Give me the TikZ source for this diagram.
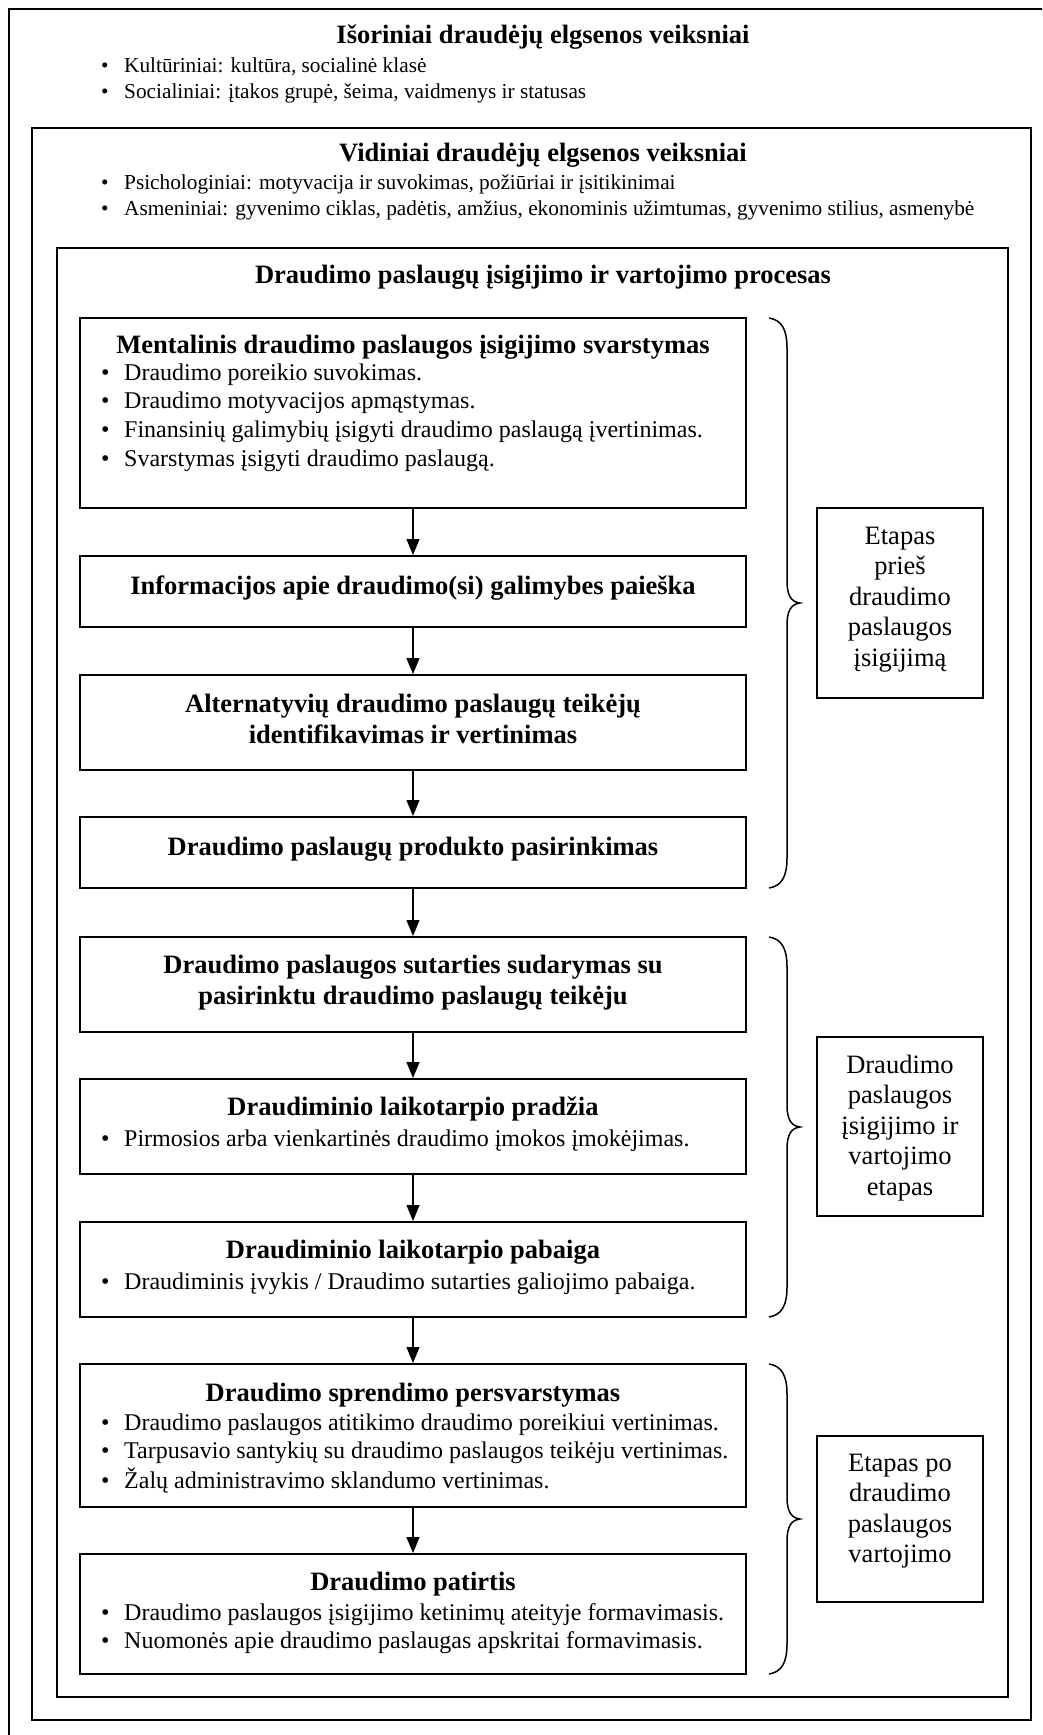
\documentclass[tikz,border=0pt]{standalone}
\usepackage{fontspec}
\setmainfont{Liberation Serif}
\usetikzlibrary{arrows.meta}

% bullet with a fixed indent before the item text
\newcommand\blt{\makebox[23pt][l]{•}}
% rectangle node given by its corners: name, x1, y1, x2, y2 (in px)
\newcommand\mkbox[6][frame]{%
  \node[#1, minimum width={#5-#3}, minimum height={#6-#4}] (#2)
    at ({(#3+#5)/2},{(#4+#6)/2}) {};}
% curly brace between two heights (top, bottom)
\newcommand\stagebrace[2]{%
  \draw[brc] (769,#1) .. controls (782,{#1+2}) and (787,{#1+12}) .. (787,{#1+30})
    -- (787,{(#1+#2)/2-22})
    .. controls (787,{(#1+#2)/2-8}) and (791,{(#1+#2)/2-1}) .. (800,{(#1+#2)/2})
    .. controls (791,{(#1+#2)/2+1}) and (787,{(#1+#2)/2+8}) .. (787,{(#1+#2)/2+22})
    -- (787,{#2-30})
    .. controls (787,{#2-12}) and (782,{#2-2}) .. (769,#2);}

\tikzset{
  frame/.style={draw, line width=2pt, inner sep=0pt, fill=none},
  arr/.style={line width=1.3pt, -{Triangle[length=16pt,width=13pt]}},
  brc/.style={line width=1.5pt},
  ttl/.style={font=\fontsize{26.5}{31}\selectfont\bfseries, inner sep=0pt, anchor=base},
  lst/.style={font=\fontsize{24}{28.8}\selectfont, inner sep=0pt, anchor=base west},
  olst/.style={font=\fontsize{21.3}{26}\selectfont, inner sep=0pt, anchor=base west},
  lbl/.style={font=\fontsize{26.5}{30.5}\selectfont, inner sep=0pt, anchor=base},
}

\begin{document}
\begin{tikzpicture}[x=1pt,y=-1pt]
\clip (0,0) rectangle (1042,1735);

% nested frames
\mkbox{outer}{9}{9}{1070}{1770}
\mkbox{middle}{32}{128}{1031}{1720}
\mkbox{inner}{57}{248}{1008}{1697}

% external factors
\node[ttl] (t0) at (543,43) {Išoriniai draudėjų elgsenos veiksniai};
\node[olst] (l0) at (101,72) {\begin{tabular}[t]{@{}l@{}}
\blt Kultūriniai: kultūra, socialinė klasė\\
\blt Socialiniai: įtakos grupė, šeima, vaidmenys ir statusas
\end{tabular}};

% internal factors
\node[ttl] (t1) at (543,161) {Vidiniai draudėjų elgsenos veiksniai};
\node[olst] (l1) at (101,189) {\begin{tabular}[t]{@{}l@{}}
\blt Psichologiniai: motyvacija ir suvokimas, požiūriai ir įsitikinimai\\
\blt Asmeniniai: gyvenimo ciklas, padėtis, amžius, ekonominis užimtumas, gyvenimo stilius, asmenybė
\end{tabular}};

% process
\node[ttl] (t2) at (543,283) {Draudimo paslaugų įsigijimo ir vartojimo procesas};

% process steps
\mkbox{b1}{80}{318}{746}{508}
\mkbox{b2}{80}{556}{746}{627}
\mkbox{b3}{80}{675}{746}{770}
\mkbox{b4}{80}{817}{746}{888}
\mkbox{b5}{80}{937}{746}{1032}
\mkbox{b6}{80}{1079}{746}{1174}
\mkbox{b7}{80}{1222}{746}{1317}
\mkbox{b8}{80}{1364}{746}{1507}
\mkbox{b9}{80}{1554}{746}{1674}

\node[ttl] (b1t) at (413,353) {Mentalinis draudimo paslaugos įsigijimo svarstymas};
\node[lst] (b1l) at (101,380) {\begin{tabular}[t]{@{}l@{}}
\blt Draudimo poreikio suvokimas.\\
\blt Draudimo motyvacijos apmąstymas.\\
\blt Finansinių galimybių įsigyti draudimo paslaugą įvertinimas.\\
\blt Svarstymas įsigyti draudimo paslaugą.
\end{tabular}};

\node[ttl] (b2t) at (413,594) {Informacijos apie draudimo(si) galimybes paieška};

\node[ttl] (b3t) at (413,712) {\begin{tabular}[t]{@{}c@{}}
Alternatyvių draudimo paslaugų teikėjų\\
identifikavimas ir vertinimas
\end{tabular}};

\node[ttl] (b4t) at (413,855) {Draudimo paslaugų produkto pasirinkimas};

\node[ttl] (b5t) at (413,973) {\begin{tabular}[t]{@{}c@{}}
Draudimo paslaugos sutarties sudarymas su\\
pasirinktu draudimo paslaugų teikėju
\end{tabular}};

\node[ttl] (b6t) at (413,1115) {Draudiminio laikotarpio pradžia};
\node[lst] (b6l) at (101,1146) {\blt Pirmosios arba vienkartinės draudimo įmokos įmokėjimas.};

\node[ttl] (b7t) at (413,1258) {Draudiminio laikotarpio pabaiga};
\node[lst] (b7l) at (101,1289) {\blt Draudiminis įvykis / Draudimo sutarties galiojimo pabaiga.};

\node[ttl] (b8t) at (413,1401) {Draudimo sprendimo persvarstymas};
\node[lst] (b8l) at (101,1430) {\begin{tabular}[t]{@{}l@{}}
\blt Draudimo paslaugos atitikimo draudimo poreikiui vertinimas.\\
\blt Tarpusavio santykių su draudimo paslaugos teikėju vertinimas.\\
\blt Žalų administravimo sklandumo vertinimas.
\end{tabular}};

\node[ttl] (b9t) at (413,1590) {Draudimo patirtis};
\node[lst] (b9l) at (101,1620) {\begin{tabular}[t]{@{}l@{}}
\blt Draudimo paslaugos įsigijimo ketinimų ateityje formavimasis.\\
\blt Nuomonės apie draudimo paslaugas apskritai formavimasis.
\end{tabular}};

% flow arrows
\draw[arr] (b1) -- (b2);
\draw[arr] (b2) -- (b3);
\draw[arr] (b3) -- (b4);
\draw[arr] (b4) -- (b5);
\draw[arr] (b5) -- (b6);
\draw[arr] (b6) -- (b7);
\draw[arr] (b7) -- (b8);
\draw[arr] (b8) -- (b9);

% stage braces
\stagebrace{318}{888}
\stagebrace{937}{1317}
\stagebrace{1364}{1674}

% stage labels
\mkbox{s1}{817}{508}{983}{698}
\mkbox{s2}{817}{1037}{983}{1216}
\mkbox{s3}{817}{1436}{983}{1602}

\node[lbl] (s1t) at (900,544) {\begin{tabular}[t]{@{}c@{}}
Etapas\\ prieš\\ draudimo\\ paslaugos\\ įsigijimą
\end{tabular}};
\node[lbl] (s2t) at (900,1073) {\begin{tabular}[t]{@{}c@{}}
Draudimo\\ paslaugos\\ įsigijimo ir\\ vartojimo\\ etapas
\end{tabular}};
\node[lbl] (s3t) at (900,1471) {\begin{tabular}[t]{@{}c@{}}
Etapas po\\ draudimo\\ paslaugos\\ vartojimo
\end{tabular}};
\end{tikzpicture}
\end{document}
